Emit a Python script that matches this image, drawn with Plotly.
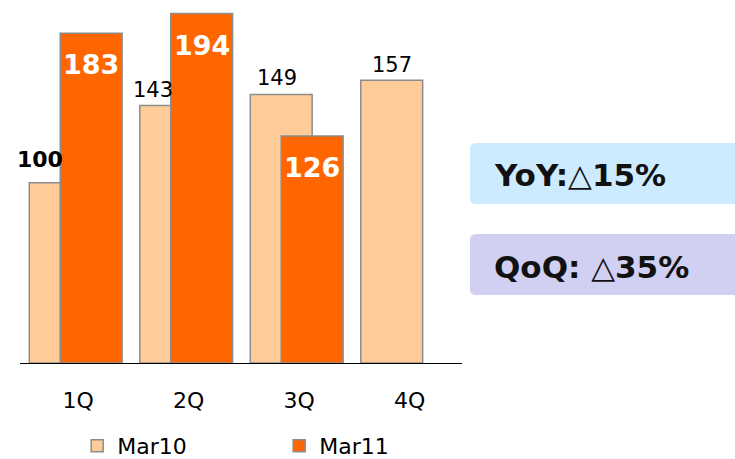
import plotly.graph_objects as go

categories = ["1Q", "2Q", "3Q", "4Q"]
mar10 = [100, 143, 149, 157]
mar11 = [183, 194, 126, None]
series_names = ["Mar10", "Mar11"]
box_texts = ["YoY:△15%", "QoQ: △35%"]

W, H = 735, 459
L, R, T, B = 20, 273, 0, 96
PW, PH = W - L - R, H - T - B

BAR_W = 0.56
OFF10, OFF11 = -0.416, -0.136

fig = go.Figure()
fig.add_trace(go.Bar(
    x=categories, y=mar10, name=series_names[0],
    width=BAR_W, offset=OFF10,
    marker=dict(color="#FFCC99", line=dict(color="#8C8C8C", width=1.5)),
))
fig.add_trace(go.Bar(
    x=categories, y=mar11, name=series_names[1],
    width=BAR_W, offset=OFF11,
    marker=dict(color="#FF6600", line=dict(color="#8C8C8C", width=1.5)),
))

annotations = []
# Mar10 labels (above bars)
shifts10 = [-20, -18, -4, 0]
yshifts10 = [9, 1, 3, 1]
bold10 = [True, False, False, False]
for i, v in enumerate(mar10):
    txt = f"<b>{v}</b>" if bold10[i] else str(v)
    annotations.append(dict(
        x=i + OFF10 + BAR_W / 2, y=v, xref="x", yref="y",
        text=txt, showarrow=False, yanchor="bottom", xanchor="center",
        xshift=shifts10[i], yshift=yshifts10[i],
        font=dict(family="DejaVu Sans", size=21 if not bold10[i] else 22, color="#000000"),
    ))
# Mar11 labels (inside, white bold)
for i, v in enumerate(mar11):
    if v is None:
        continue
    annotations.append(dict(
        x=i + OFF11 + BAR_W / 2, y=v, xref="x", yref="y",
        text=f"<b>{v}</b>", showarrow=False, yanchor="top", xanchor="center",
        yshift=-14,
        font=dict(family="DejaVu Sans", size=27, color="#FFFFFF"),
    ))

def px_x(p):
    return (p - L) / PW

def px_y(p):
    return (T + PH - p) / PH

shapes = []
boxes = [(143, 204, "#CCEBFF"), (234, 295, "#D1D0F2")]
r = 6
for (y0, y1, col) in boxes:
    x0, x1 = 470, 740
    rx, ry = r / PW, r / PH
    X0, X1 = px_x(x0), px_x(x1)
    Y0, Y1 = px_y(y1), px_y(y0)  # bottom, top in paper
    path = (f"M {X0+rx},{Y0} L {X1},{Y0} L {X1},{Y1} L {X0+rx},{Y1} "
            f"Q {X0},{Y1} {X0},{Y1-ry} L {X0},{Y0+ry} Q {X0},{Y0} {X0+rx},{Y0} Z")
    shapes.append(dict(type="path", path=path, xref="paper", yref="paper",
                       fillcolor=col, line=dict(width=0), layer="below"))

text_centers = [175, 267]
for t, yc in zip(box_texts, text_centers):
    annotations.append(dict(
        x=px_x(492), y=px_y(yc), xref="paper", yref="paper",
        text=f"<b>{t}</b>", showarrow=False, xanchor="left", yanchor="middle",
        font=dict(family="DejaVu Sans", size=31, color="#111111"),
    ))

fig.update_layout(
    width=W, height=H,
    margin=dict(l=L, r=R, t=T, b=B, pad=0, autoexpand=False),
    paper_bgcolor="white", plot_bgcolor="white",
    barmode="overlay",
    showlegend=True,
    legend=dict(
        orientation="h", xref="container", yref="paper",
        x=0.105, y=px_y(446), xanchor="left", yanchor="middle",
        entrywidth=157, entrywidthmode="pixels",
        font=dict(family="DejaVu Sans", size=22, color="#000000"),
        itemclick=False, bgcolor="rgba(0,0,0,0)",
    ),
    xaxis=dict(
        type="category", range=[-0.5, 3.5],
        showline=True, linecolor="#000000", linewidth=1,
        showgrid=False, zeroline=False, ticks="",
        ticklabelstandoff=18, ticklabelshift=3,
        tickfont=dict(family="DejaVu Sans", size=22, color="#000000"),
    ),
    yaxis=dict(range=[0, 201.5], visible=False, showgrid=False, zeroline=False),
    shapes=shapes,
    annotations=annotations,
)

fig.write_html("out.html", config={"displayModeBar": False},
               post_script="document.body.style.margin='0';document.body.style.overflow='hidden';")
